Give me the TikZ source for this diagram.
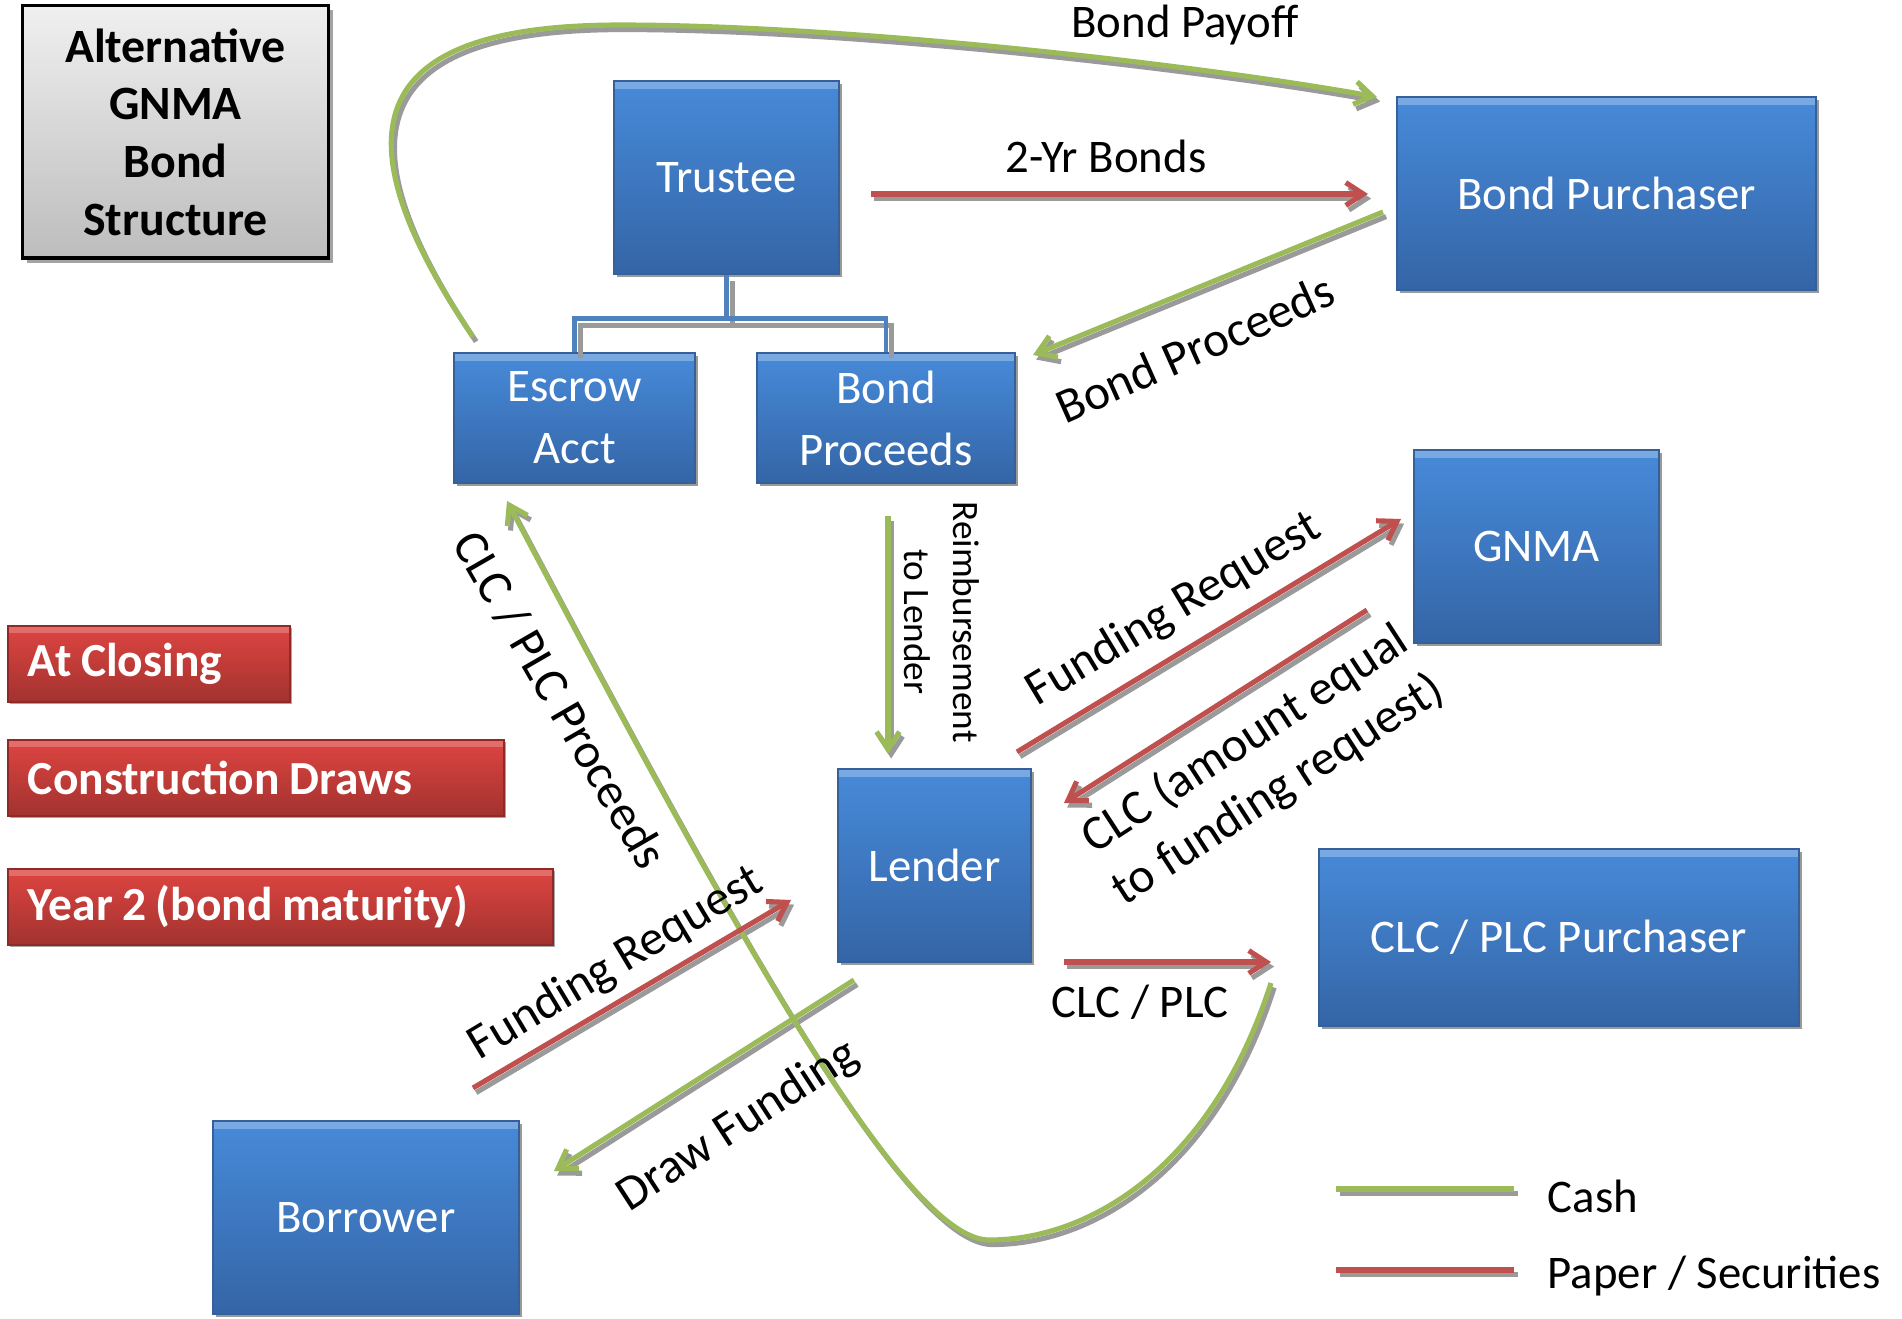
\documentclass[tikz,border=0pt]{standalone}
\usepackage{fontspec}
\setmainfont{Carlito}
\usetikzlibrary{arrows.meta,shadows,calc}
\definecolor{cashgreen}{HTML}{9BBB59}
\definecolor{paperred}{HTML}{C0504D}
\definecolor{boxtop}{HTML}{478AD9}
\definecolor{boxbot}{HTML}{3465A6}
\definecolor{boxedge}{HTML}{35609A}
\definecolor{redtop}{HTML}{DE4541}
\definecolor{redbot}{HTML}{A2322F}
\definecolor{redge}{HTML}{8E2B28}
\definecolor{treeblue}{HTML}{4F81BD}
\definecolor{shadowgray}{HTML}{9A9A9A}
\newcommand{\tightsp}{\spaceskip=0.2em\relax}
\newcommand{\flowpaths}[2]{%
  \draw[#1] (payS) .. controls (330,125) and (372,25) .. (620,25) .. controls (850,25) and (1200,65) .. (payE);
  \draw[#2] (yrS) -- (yrE);
  \draw[#1] (bpS) -- (bpE);
  \draw[#1] (reS) -- (reE);
  \draw[#2] (frS) -- (frE);
  \draw[#2] (clS) -- (clE);
  \draw[#2] (cpS) -- (cpE);
  \draw[#1] (uS) .. controls (1213,1164) and (1092,1240) .. (uB) .. controls (898,1240) and (704,873) .. (uE);
  \draw[#2] (fbS) -- (fbE);
  \draw[#1] (dfS) -- (dfE);
}
\newcommand{\treepaths}[1]{%
  \draw[#1] (trustee.south) -- (tj);
  \draw[#1] (escrow.north) -- (escrow.north |- tj) -- (bproc.north |- tj) -- (bproc.north);
}
\begin{document}
\begin{tikzpicture}[x=0.01cm,y=-0.01cm,
  bluebox/.style={rectangle, top color=boxtop, bottom color=boxbot, draw=boxedge, line width=0.5pt,
    text=white, align=center, font=\fontsize{13.3}{16.6}\selectfont, inner sep=0pt,
    drop shadow={shadow xshift=0.9pt, shadow yshift=-0.9pt, fill=gray, opacity=0.8},
    path picture={\fill[white,opacity=0.28] (path picture bounding box.north west) rectangle ([yshift=-2.4pt]path picture bounding box.north east);}},
  redbox/.style={rectangle, top color=redtop, bottom color=redbot, draw=redge, line width=0.5pt,
    text=white, align=left, font=\bfseries\fontsize{13.5}{16}\selectfont, inner ysep=0pt, inner xsep=0.2cm,
    drop shadow={shadow xshift=0.6pt, shadow yshift=-0.6pt, fill=gray, opacity=0.7},
    path picture={\fill[white,opacity=0.22] (path picture bounding box.north west) rectangle ([yshift=-2pt]path picture bounding box.north east);}},
  titlebox/.style={rectangle, top color=gray!12, bottom color=gray!52, draw=black, line width=0.9pt,
    align=center, font=\bfseries\fontsize{13.6}{16.4}\selectfont, inner sep=0pt,
    drop shadow={shadow xshift=1.3pt, shadow yshift=-1.3pt, fill=gray!80, opacity=0.9}},
  tipx/.style={-{Straight Barb[length=5pt,width=6.5pt,line width=1.45pt]}},
  cash/.style={draw=cashgreen, line width=1.45pt, tipx},
  paper/.style={draw=paperred, line width=1.45pt, tipx},
  shad/.style={draw=shadowgray, line width=1.45pt, tipx},
  tree/.style={draw=treeblue, line width=1.4pt},
  treeshad/.style={draw=shadowgray, line width=1.4pt},
  lbl/.style={font=\fontsize{13.3}{16}\selectfont, inner sep=0pt},
  dlbl/.style={font=\fontsize{14}{17}\selectfont, inner sep=0pt, align=center},
  legline/.style={line width=1.6pt}
]
\useasboundingbox (0,0) rectangle (1902,1319);

% title
\node[titlebox, minimum width=3.05cm, minimum height=2.52cm] (title) at (175.5,132) {Alternative\\GNMA\\Bond\\Structure};

% phase boxes
\node[redbox, anchor=west, text width=2.42cm, minimum height=0.76cm] (closing) at (7,664) {\tightsp At Closing};
\node[redbox, anchor=west, text width=4.56cm, minimum height=0.76cm] (draws) at (7,778) {\tightsp Construction Draws};
\node[redbox, anchor=west, text width=5.05cm, minimum height=0.76cm] (year2) at (7,907) {\tightsp Year 2 (bond maturity)};

% entity boxes
\node[bluebox, minimum width=2.25cm, minimum height=1.93cm] (trustee) at (726.5,177.5) {Trustee};
\node[bluebox, minimum width=4.19cm, minimum height=1.93cm] (purch) at (1606.5,193.5) {Bond Purchaser};
\node[bluebox, minimum width=2.41cm, minimum height=1.30cm] (escrow) at (574.5,418) {Escrow\\[1pt]Acct};
\node[bluebox, minimum width=2.58cm, minimum height=1.30cm] (bproc) at (886,418) {Bond\\[1pt]Proceeds};
\node[bluebox, minimum width=2.45cm, minimum height=1.93cm] (gnma) at (1536.5,546.5) {GNMA};
\node[bluebox, minimum width=1.93cm, minimum height=1.93cm] (lender) at (934.5,865.5) {Lender};
\node[bluebox, minimum width=4.80cm, minimum height=1.77cm] (clcp) at (1559,937.5) {CLC / PLC Purchaser};
\node[bluebox, minimum width=3.06cm, minimum height=1.93cm] (borrower) at (366,1217.5) {Borrower};

% trustee tree
\coordinate (tj) at ($(trustee.south)+(0,44)$);
\begin{scope}[transform canvas={shift={(1.6pt,-1.8pt)}}]
  \treepaths{treeshad}
\end{scope}
\treepaths{tree}

% endpoints
\coordinate (payS) at (473,337);
\coordinate (payE) at (1377,97);
\coordinate (yrS) at (871,194);
\coordinate (yrE) at (1368,194);
\coordinate (bpS) at (1383,212);
\coordinate (bpE) at (1033,355);
\coordinate (reS) at (888,516);
\coordinate (reE) at (888,754);
\coordinate (frS) at (1017,752);
\coordinate (frE) at (1401,519);
\coordinate (clS) at (1367,610);
\coordinate (clE) at (1064,803);
\coordinate (cpS) at (1064,962);
\coordinate (cpE) at (1271,962);
\coordinate (uS) at (1271,983);
\coordinate (uB) at (989,1240);
\coordinate (uE) at (507,501);
\coordinate (fbS) at (473,1088);
\coordinate (fbE) at (791,900);
\coordinate (dfS) at (854,980);
\coordinate (dfE) at (554,1171);

% flows: shadows first, then lines
\begin{scope}[transform canvas={shift={(0.9pt,-1.3pt)}}]
  \flowpaths{shad}{shad}
\end{scope}
\flowpaths{cash}{paper}

% labels
\node[lbl] (lpay) at (1185,25) {Bond Payoff};
\node[lbl] (lyr) at (1106,156) {2-Yr Bonds};
\node[dlbl, rotate=24] (lbp) at (1195,348) {Bond Proceeds};
\node[font=\fontsize{10.6}{14}\selectfont, inner sep=0pt, align=center, rotate=-90] (lre) at (942,622) {Reimbursement\\to Lender};
\node[dlbl, rotate=31] (lfr) at (1174,610) {Funding Request};
\node[dlbl, rotate=33] (lcl) at (1262,765) {CLC (amount equal\\to funding request)};
\node[lbl] (lcp) at (1140,1002) {CLC / PLC};
\node[dlbl, rotate=-60] (lu) at (560,700) {CLC / PLC Proceeds};
\node[dlbl, rotate=31] (lfb) at (616,964) {Funding Request};
\node[dlbl, rotate=33] (ldf) at (738,1126) {Draw Funding};

% legend
\coordinate (lg1a) at (1336,1189);
\coordinate (lg1b) at (1514,1189);
\coordinate (lg2a) at (1336,1270);
\coordinate (lg2b) at (1514,1270);
\begin{scope}[transform canvas={shift={(1.2pt,-1.3pt)}}]
  \draw[legline, draw=shadowgray] (lg1a) -- (lg1b);
  \draw[legline, draw=shadowgray] (lg2a) -- (lg2b);
\end{scope}
\draw[legline, draw=cashgreen] (lg1a) -- (lg1b);
\draw[legline, draw=paperred] (lg2a) -- (lg2b);
\node[lbl, anchor=west] (lcash) at (1547,1196) {Cash};
\node[lbl, anchor=west] (lpaper) at (1547,1276) {Paper / Securities};
\end{tikzpicture}
\end{document}
